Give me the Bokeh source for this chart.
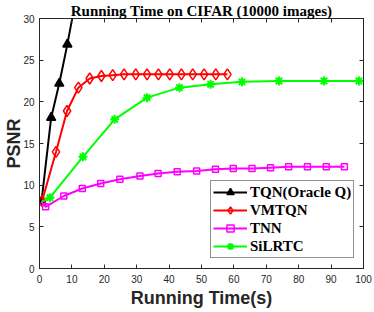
from bokeh.plotting import figure
from bokeh.models import Range1d, LinearAxis, FixedTicker, Title
from bokeh.embed import file_html
from bokeh.resources import INLINE

# ---- data ----
x_ticks = [0, 10, 20, 30, 40, 50, 60, 70, 80, 90, 100]
y_ticks = [0, 5, 10, 15, 20, 25, 30]

tqn_t = [0.6, 3.6, 6.1, 8.6, 11.1]
tqn_psnr = [8.0, 18.1, 22.2, 26.9, 32.1]

vmtqn_t = [0.8, 5.1, 8.5, 12.0, 15.5, 19.1, 22.6, 26.1, 29.7, 33.2, 36.7,
           40.2, 43.8, 47.3, 50.8, 54.4, 58.0]
vmtqn_psnr = [8.1, 14.0, 18.9, 21.7, 22.8, 23.1, 23.2, 23.3, 23.3, 23.3, 23.3,
              23.3, 23.3, 23.3, 23.3, 23.3, 23.3]

tnn_t = [0.6, 1.9, 7.5, 13.2, 18.9, 24.8, 31.0, 36.6, 42.5, 48.5, 54.3,
         59.8, 65.6, 71.3, 76.9, 82.7, 88.5, 94.1]
tnn_psnr = [8.0, 7.4, 8.7, 9.6, 10.2, 10.7, 11.1, 11.4, 11.6, 11.7, 11.9,
            12.0, 12.0, 12.1, 12.2, 12.2, 12.2, 12.2]

silrtc_t = [0.6, 3.2, 13.4, 23.2, 33.2, 43.2, 52.8, 62.5, 73.9, 87.8, 98.6]
silrtc_psnr = [8.0, 8.5, 13.4, 17.9, 20.5, 21.7, 22.1, 22.4, 22.5, 22.5, 22.5]

AX = "#262626"

p = figure(width=374, height=312, output_backend="svg", toolbar_location=None,
           x_range=Range1d(0, 100), y_range=Range1d(0, 30),
           min_border_left=39, min_border_right=11, min_border_top=18,
           min_border_bottom=44)
p.background_fill_color = "white"
p.border_fill_color = "white"
p.outline_line_color = AX
p.outline_line_width = 1
p.xgrid.visible = False
p.ygrid.visible = False

for ax, ticks in ((p.xaxis[0], x_ticks), (p.yaxis[0], y_ticks)):
    ax.ticker = FixedTicker(ticks=ticks)
    ax.major_tick_in = 4
    ax.major_tick_out = 0
    ax.minor_tick_in = 0
    ax.minor_tick_out = 0
    ax.axis_line_color = AX
    ax.major_tick_line_color = AX
    ax.major_label_text_font = "Liberation Sans"
    ax.major_label_text_font_size = "10px"
    ax.major_label_text_color = AX
    ax.axis_label_text_font = "Liberation Sans"
    ax.axis_label_text_font_style = "bold"
    ax.axis_label_text_font_size = "18px"
    ax.axis_label_text_color = AX
p.xaxis.major_label_standoff = 6
p.yaxis.major_label_standoff = 5
p.xaxis.axis_label = "Running Time(s)"
p.yaxis.axis_label = "PSNR"
p.xaxis.axis_label_standoff = 2
p.yaxis.axis_label_standoff = -4

for loc, ticks in (("right", y_ticks), ("above", x_ticks)):
    a = LinearAxis(ticker=FixedTicker(ticks=ticks), major_tick_in=4, major_tick_out=0,
                   minor_tick_in=0, minor_tick_out=0, major_label_text_font_size="1px",
                   major_label_text_color=None, major_label_standoff=0,
                   axis_line_color=AX, major_tick_line_color=AX)
    p.add_layout(a, loc)

p.add_layout(Title(text="Running Time on CIFAR (10000 images)", align="center",
                   text_font="Liberation Serif", text_font_style="bold",
                   text_font_size="15px", text_color="#000000", standoff=0), "above")

series = [
    ("TQN(Oracle Q)", tqn_t, tqn_psnr, "#000000", "triangle", 9, 0),
    ("VMTQN", vmtqn_t, vmtqn_psnr, "#FF0000", "diamond", 11, 0),
    ("TNN", tnn_t, tnn_psnr, "#FF00FF", "square", 6, 1),
    ("SiLRTC", silrtc_t, silrtc_psnr, "#00FF00", "asterisk", 9, 1),
]
for name, xs, ys, col, mk, sz, start in series:
    p.line(xs, ys, line_color=col, line_width=2, legend_label=name)
    fill = col if mk == "triangle" else None
    p.scatter(xs[start:], ys[start:], marker=mk, size=sz, line_color=col,
              fill_color=fill, line_width=2 if mk == "asterisk" else 1.5,
              legend_label=name)

lg = p.legend[0]
lg.location = (171, 10)
lg.padding = 2
lg.margin = 0
lg.spacing = 0
lg.glyph_width = 34
lg.glyph_height = 18
lg.label_height = 18
lg.label_standoff = 3
lg.label_text_font = "Liberation Serif"
lg.label_text_font_style = "bold"
lg.label_text_font_size = "15px"
lg.label_text_color = "#000000"
lg.border_line_color = AX
lg.border_line_width = 1
lg.background_fill_color = "white"
lg.background_fill_alpha = 1

open("out.html", "w").write(file_html(p, INLINE))
